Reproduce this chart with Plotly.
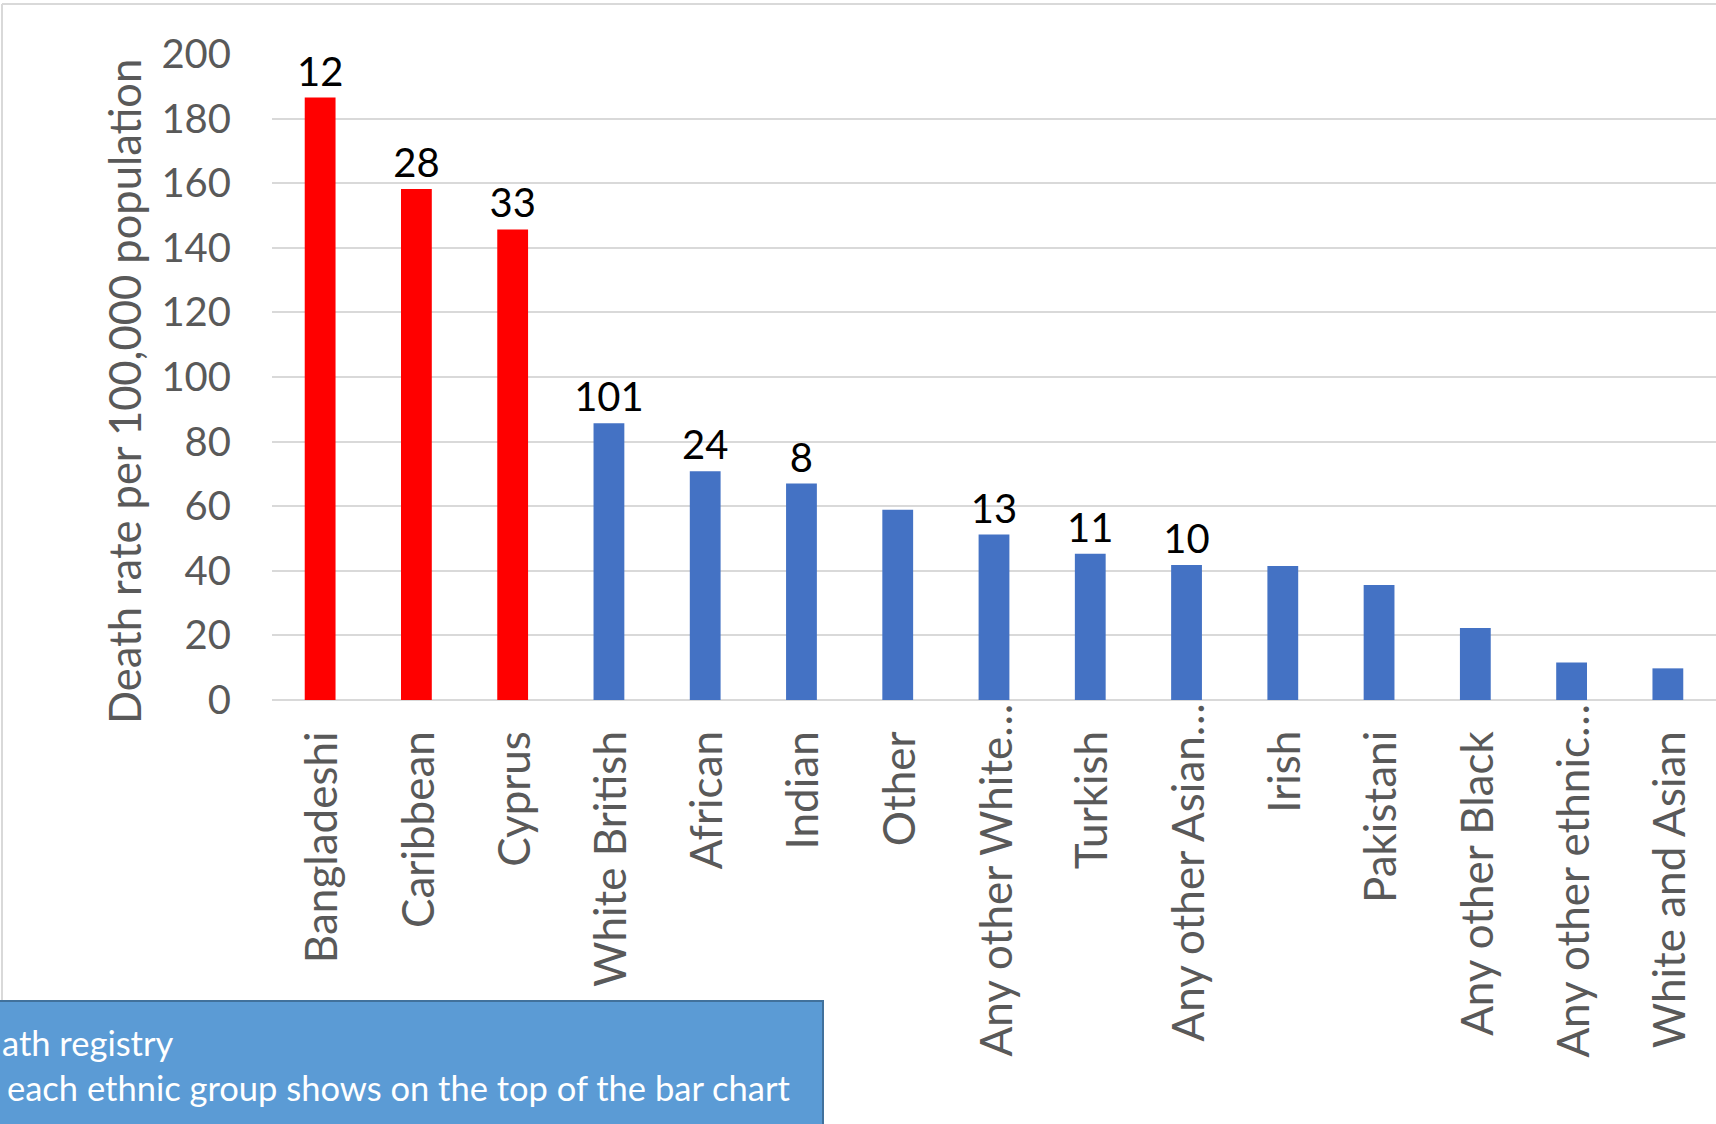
import plotly.graph_objects as go

categories = ["Bangladeshi", "Caribbean", "Cyprus", "White British", "African", "Indian",
              "Other", "Any other White…", "Turkish", "Any other Asian…", "Irish",
              "Pakistani", "Any other Black", "Any other ethnic…", "White and Asian"]
death_rate = [186.5, 158.2, 145.7, 85.7, 70.8, 67.0, 58.9, 51.2, 45.3, 41.8, 41.5,
              35.6, 22.3, 11.6, 9.8]
death_counts = ["12", "28", "33", "101", "24", "8", "", "13", "11", "10", "", "", "", "", ""]
highlight = [True, True, True] + [False] * 12
y_ticks = list(range(0, 201, 20))

RED = "#FF0000"
BLUE = "#4472C4"
GRID = "#D9D9D9"
TXT = "#595959"
FONT = "Lato"

W, H = 1716, 1124
ML, MR, MT, MB = 272, 0, 54, 424
PW, PH = W - ML - MR, H - MT - MB


def px_x(px):
    return (px - ML) / PW


def px_y(py):
    return (H - MB - py) / PH


fig = go.Figure()
fig.add_trace(go.Bar(
    x=categories,
    y=death_rate,
    marker=dict(color=[RED if h else BLUE for h in highlight], line=dict(width=0)),
    text=death_counts,
    textposition="outside",
    textfont=dict(family=FONT, size=40, color="black"),
    constraintext="none",
    cliponaxis=False,
    hoverinfo="x+y",
))

# category labels (rotated), truncated ones sit closer to the axis as in the original
for cat in categories:
    top_px = 703 if cat.endswith("…") else 730
    fig.add_annotation(text=cat, xref="x", yref="paper", x=cat, y=px_y(top_px),
                       xanchor="center", yanchor="top", textangle=-90,
                       showarrow=False, borderpad=0,
                       font=dict(family=FONT, size=44, color=TXT))

# chart border (light grey)
fig.add_shape(type="line", xref="paper", yref="paper",
              x0=px_x(2), x1=px_x(W + 5), y0=px_y(4), y1=px_y(4),
              line=dict(color=GRID, width=2), layer="below")
fig.add_shape(type="line", xref="paper", yref="paper",
              x0=px_x(2), x1=px_x(2), y0=px_y(4), y1=px_y(1000),
              line=dict(color=GRID, width=2), layer="below")

# blue note box
fig.add_shape(type="rect", xref="paper", yref="paper",
              x0=px_x(-5), x1=px_x(823), y0=px_y(1001), y1=px_y(H + 5),
              fillcolor="#5B9BD5", line=dict(color="#41719C", width=2), layer="above")
fig.add_annotation(text="ath registry", xref="paper", yref="paper",
                   x=px_x(0), y=px_y(1042), xanchor="left", yanchor="middle",
                   showarrow=False, font=dict(family=FONT, size=34.5, color="white"))
fig.add_annotation(text="each ethnic group shows on the top of the bar chart",
                   xref="paper", yref="paper",
                   x=px_x(5), y=px_y(1087), xanchor="left", yanchor="middle",
                   showarrow=False, font=dict(family=FONT, size=34.5, color="white"))

# y-axis title
fig.add_annotation(text="Death rate per 100,000 population", xref="paper", yref="paper",
                   x=px_x(124), y=px_y(392), xanchor="center", yanchor="middle",
                   textangle=-90, showarrow=False,
                   font=dict(family=FONT, size=43.5, color=TXT))

fig.update_layout(
    width=W, height=H,
    margin=dict(l=ML, r=MR, t=MT, b=MB, pad=0, autoexpand=False),
    paper_bgcolor="white", plot_bgcolor="white",
    bargap=0.68,
    showlegend=False,
    font=dict(family=FONT, color=TXT),
)
fig.update_xaxes(
    showticklabels=False,
    ticks="", showline=False, showgrid=False,
)
fig.update_yaxes(
    range=[0, 200],
    tickvals=y_ticks,
    tickfont=dict(family=FONT, size=40, color=TXT),
    showgrid=True, gridcolor=GRID, gridwidth=2,
    zeroline=True, zerolinecolor=GRID, zerolinewidth=2,
    showline=False, ticks="",
    ticklabelstandoff=40,
)

fig.write_html("out.html", config={"displayModeBar": False},
               post_script="document.body.style.margin='0';document.body.style.overflow='hidden';")
